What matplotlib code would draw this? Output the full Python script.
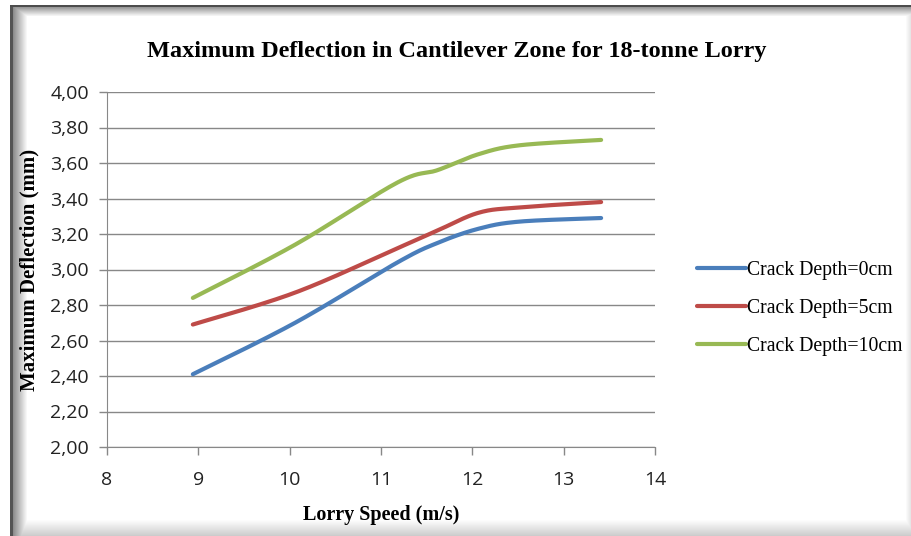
import numpy as np
import matplotlib
matplotlib.use('Agg')
import matplotlib.pyplot as plt
from matplotlib.ticker import FuncFormatter

# vitesses (m/s) et flèches maximales (mm)
speed = [8.94, 10.06, 11.18, 11.62, 12.07, 12.52, 13.41]
crack_0 = [2.41, 2.70, 3.04, 3.15, 3.23, 3.27, 3.29]
crack_5 = [2.69, 2.87, 3.12, 3.22, 3.32, 3.35, 3.38]
crack_10 = [2.84, 3.14, 3.49, 3.56, 3.65, 3.70, 3.73]
labels = ['Crack Depth=0cm', 'Crack Depth=5cm', 'Crack Depth=10cm']
colors = ['#4A7EBB', '#BE4B48', '#98B954']


def smooth(x, y, n=30):
    # courbe lissée façon tableur (Bézier type Catmull-Rom)
    p = np.column_stack([x, y]).astype(float)
    p = np.vstack([p[0], p, p[-1]])
    out = []
    for i in range(1, len(p) - 2):
        p0, p1, p2, p3 = p[i - 1], p[i], p[i + 1], p[i + 2]
        c1 = p1 + (p2 - p0) / 6
        c2 = p2 - (p3 - p1) / 6
        t = np.linspace(0, 1, n)[:, None]
        seg = ((1 - t) ** 3 * p1 + 3 * (1 - t) ** 2 * t * c1
               + 3 * (1 - t) * t ** 2 * c2 + t ** 3 * p2)
        out.append(seg if i == 1 else seg[1:])
    out = np.vstack(out)
    return out[:, 0], out[:, 1]


fig = plt.figure(figsize=(9.12, 5.36), dpi=100)

# cadre avec ombre intérieure
H, W = 536, 912
bg = np.ones((H, W))
for i in range(14):
    bg[7:, 13 + i] = np.minimum(bg[7:, 13 + i], 0.55 + 0.45 * i / 14)
for i in range(9):
    bg[7 + i, 13:] = np.minimum(bg[7 + i, 13:], 0.6 + 0.4 * i / 9)
for i in range(16):
    bg[H - 1 - i, 13:] = np.minimum(bg[H - 1 - i, 13:], 0.8 + 0.2 * i / 16)
for i in range(6):
    bg[7:, W - 1 - i] = np.minimum(bg[7:, W - 1 - i], 0.88 + 0.12 * i / 6)
bg[5:, 10:13] = 0.33
bg[5:7, 10:] = 0.3
ax_bg = fig.add_axes([0, 0, 1, 1], zorder=-10)
ax_bg.imshow(bg, cmap='gray', vmin=0, vmax=1, aspect='auto', interpolation='nearest')
ax_bg.axis('off')

ax = fig.add_axes([107 / 912, 1 - 447 / 536, 548 / 912, 355 / 536])
ax.patch.set_alpha(0)

for ys, lab, c in zip([crack_0, crack_5, crack_10], labels, colors):
    sx, sy = smooth(speed, ys)
    ax.plot(sx, sy, color=c, lw=3, solid_capstyle='round', label=lab)

ax.set_xlim(8, 14)
ax.set_ylim(2.0, 4.0)
ax.set_xticks(np.arange(8, 15, 1))
ax.set_yticks(np.arange(2.0, 4.01, 0.2))
ax.yaxis.set_major_formatter(FuncFormatter(lambda v, p: f'{v:.2f}'.replace('.', ',')))
ax.grid(axis='y', color='#888888', lw=1)
ax.set_axisbelow(True)
for s in ['top', 'right']:
    ax.spines[s].set_visible(False)
for s in ['left', 'bottom']:
    ax.spines[s].set_color('#888888')
ax.tick_params(axis='both', colors='#888888', length=6, width=1,
               labelcolor='#222222', labelsize=14)
for t in ax.get_xticklabels() + ax.get_yticklabels():
    t.set_fontfamily('Open Sans')
ax.tick_params(axis='x', pad=11)
ax.tick_params(axis='y', pad=7)

ax.set_xlabel('Lorry Speed (m/s)', fontfamily='Liberation Serif', fontweight='bold',
              fontsize=14.5, labelpad=12)
ax.set_ylabel('Maximum Deflection (mm)', fontfamily='Liberation Serif', fontweight='bold',
              fontsize=15, labelpad=8)

fig.text(457 / 912, 1 - 51 / 536, 'Maximum Deflection in Cantilever Zone for 18-tonne Lorry',
         ha='center', va='center', fontfamily='Liberation Serif', fontweight='bold', fontsize=17.5)

ax.legend(loc='center left', bbox_to_anchor=(1.063, 0.39), frameon=False,
          prop={'family': 'Liberation Serif', 'size': 14.2}, handlelength=2.45,
          handletextpad=0.05, labelspacing=0.95, borderaxespad=0)

fig.savefig('out.png', dpi=100)
